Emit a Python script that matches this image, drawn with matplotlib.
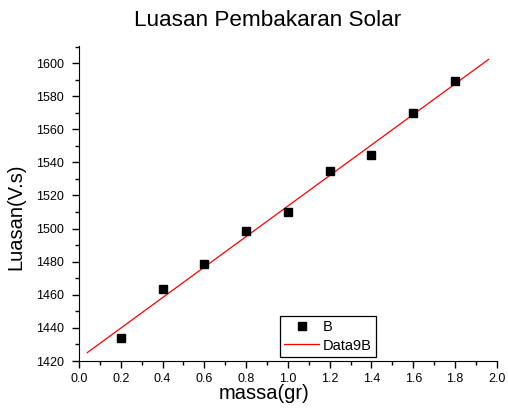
import numpy as np
import matplotlib
matplotlib.use('Agg')
import matplotlib.pyplot as plt
from matplotlib.ticker import MultipleLocator

# measured points: mass (gr) vs area (V.s)
massa = [0.2, 0.4, 0.6, 0.8, 1.0, 1.2, 1.4, 1.6, 1.8]
luasan = [1434.1, 1463.5, 1478.6, 1498.5, 1510.0, 1534.7, 1544.4, 1569.8, 1589.1]
fit_range = [0.04, 1.96]

plt.rcParams['font.family'] = ['Liberation Sans', 'DejaVu Sans']

fig = plt.figure(figsize=(5.08, 4.16), dpi=100)
ax = fig.add_axes([0.1555, 0.1322, 0.8225, 0.7572])

# linear fit
slope, intercept = np.polyfit(massa, luasan, 1)
xf = np.array(fit_range)
ax.plot(xf, slope * xf + intercept, color='red', lw=0.9, label='Data9B')
ax.plot(massa, luasan, 's', color='black', ms=5.5, label='B', linestyle='none')

ax.set_xlim(0.0, 2.0)
ax.set_ylim(1420, 1610.3)
ax.xaxis.set_major_locator(MultipleLocator(0.2))
ax.xaxis.set_minor_locator(MultipleLocator(0.1))
ax.yaxis.set_major_locator(MultipleLocator(20))
ax.yaxis.set_minor_locator(MultipleLocator(10))
ax.xaxis.set_major_formatter(plt.FuncFormatter(lambda v, p: '%.1f' % v))

for s in ['top', 'right']:
    ax.spines[s].set_visible(False)
ax.tick_params(which='major', direction='out', length=5, width=1, labelsize=9)
ax.tick_params(axis='y', which='major', pad=6)
ax.tick_params(which='minor', direction='out', length=3, width=1)

ax.set_xlabel('massa(gr)', fontsize=14.5)
ax.set_ylabel('Luasan(V.s)', fontsize=14.5)
ax.xaxis.set_label_coords(0.443, -0.072)
ax.yaxis.set_label_coords(-0.128, 0.457)
fig.suptitle('Luasan Pembakaran Solar', fontsize=16.2, x=0.527, y=0.975)

h, l = ax.get_legend_handles_labels()
leg = ax.legend([h[1], h[0]], [l[1], l[0]], loc='lower left',
                bbox_to_anchor=(0.481, 0.013), fancybox=False, framealpha=1,
                edgecolor='black', fontsize=10.5, borderaxespad=0,
                handlelength=2.4, borderpad=0.3, labelspacing=0.3,
                handletextpad=0.2)
leg.get_frame().set_linewidth(0.9)

plt.savefig('out.png')
